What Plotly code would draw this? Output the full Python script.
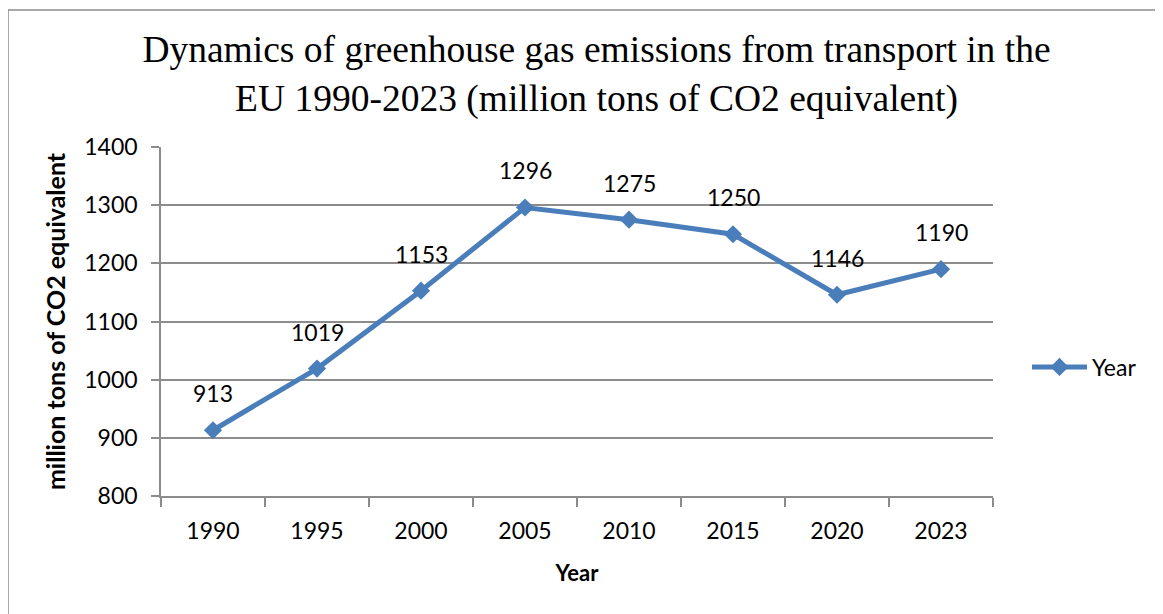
import plotly.graph_objects as go

years = ["1990", "1995", "2000", "2005", "2010", "2015", "2020", "2023"]
emissions = [913, 1019, 1153, 1296, 1275, 1250, 1146, 1190]
y_ticks = [800, 900, 1000, 1100, 1200, 1300, 1400]

W, H = 1163, 614
OFF = 8  # page offset of the figure in the screenshot
L, R, T, B = 161, 993, 147, 496  # screen pixel positions of the plot area

def px_x(px):
    return (px - L) / (R - L)

def px_y(py):
    return (B - py) / (B - T)

font_fam = "Lato, 'Open Sans', sans-serif"
tick_font = dict(family=font_fam, size=23, color="#000000")
grid_col = "#8c8c8c"
line_col = "#4a7ebb"

fig = go.Figure()
fig.add_trace(go.Scatter(
    x=years, y=emissions, name="Year",
    mode="lines+markers",
    line=dict(color=line_col, width=5),
    marker=dict(symbol="diamond", size=14, color=line_col),
    cliponaxis=False,
))

for i, v in enumerate(emissions):
    fig.add_annotation(
        x=i, y=v, text=str(v), showarrow=False,
        yshift=37, font=tick_font, xanchor="center", yanchor="middle",
    )

fig.update_layout(
    width=W, height=H,
    margin=dict(l=L - OFF, r=W - R + OFF, t=T - OFF, b=H - B + OFF, pad=0),
    paper_bgcolor="white", plot_bgcolor="white",
    title=dict(
        text="Dynamics of greenhouse gas emissions from transport in the<br>EU 1990-2023 (million tons of CO2 equivalent)",
        font=dict(family="'Liberation Serif', 'Times New Roman', serif", size=37.5, color="#000000"),
        x=0.506, xanchor="center", y=0.912, yanchor="top",
    ),
    showlegend=True,
    legend=dict(
        x=px_x(1027), y=px_y(367), xanchor="left", yanchor="middle",
        font=tick_font, bgcolor="rgba(0,0,0,0)", itemwidth=55,
    ),
    xaxis=dict(
        type="category", range=[-0.5, 7.5],
        tickson="boundaries", ticks="outside", ticklen=9, tickcolor=grid_col, tickwidth=1.5,
        showline=True, linecolor=grid_col, linewidth=1.5,
        showgrid=False, tickfont=tick_font, ticklabelstandoff=14,
        title=dict(text="<b>Year</b>", font=dict(family=font_fam, size=22, color="#000000"), standoff=22),
    ),
    yaxis=dict(
        range=[800, 1400], tickvals=y_ticks,
        ticks="outside", ticklen=8, tickcolor=grid_col, tickwidth=1.5,
        showline=True, linecolor=grid_col, linewidth=1.5,
        showgrid=True, gridcolor=grid_col, gridwidth=1.5,
        zeroline=False, tickfont=tick_font, ticklabelstandoff=9,
        title=dict(text="<b>million tons of CO2 equivalent</b>", font=dict(family=font_fam, size=25, color="#000000"), standoff=12),
    ),
)

fig.add_shape(
    type="rect", xref="paper", yref="paper",
    x0=px_x(8), x1=px_x(1185), y0=px_y(10), y1=px_y(635),
    line=dict(color="#8c8c8c", width=1.5), fillcolor="rgba(0,0,0,0)", layer="below",
)

fig.write_html("out.html")
